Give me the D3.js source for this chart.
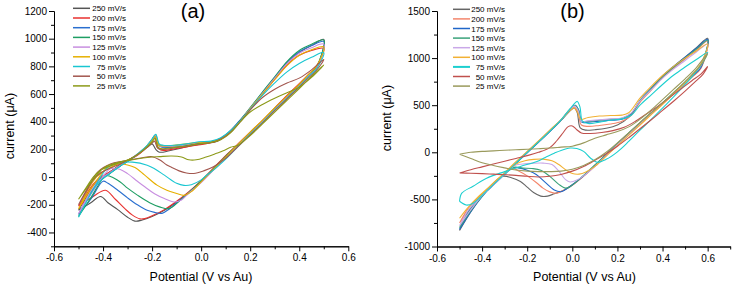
<!DOCTYPE html>
<html>
<head>
<meta charset="utf-8">
<script src="https://cdn.jsdelivr.net/npm/d3@7"></script>
<style>
  body { margin: 0; background: #fff; }
  svg { display: block; font-family: Arial, "Liberation Sans", sans-serif; }
  .tick text { font-size: 10px; fill: #000; }
  .cv { fill: none; stroke-width: 1.1; stroke-linejoin: round; }
</style>
</head>
<body>
<svg id="chart" width="734" height="286"></svg>
<script>
/* scan rates and colours */
var rates = ["250 mV/s", "200 mV/s", "175 mV/s", "150 mV/s", "125 mV/s", "100 mV/s", "75 mV/s", "50 mV/s", "25 mV/s"];
var colorsA = ["#555555", "#e8312f", "#2a6fcf", "#1e9e63", "#c88ee0", "#e6b000", "#19c6d1", "#a2564e", "#8c9a18"];
var colorsB = ["#666666", "#f4866c", "#1f66c8", "#3aa27a", "#c9a8e8", "#f2b134", "#1ccfcf", "#c0504d", "#9a9a5c"];
var widthsB = [1.1, 1.1, 1.1, 1.1, 1.1, 1.1, 1.6, 1.1, 1.1];

/* tick values */
var xTicksA = [-0.6, -0.4, -0.2, 0.0, 0.2, 0.4, 0.6];
var xMinorA = [-0.5, -0.3, -0.1, 0.1, 0.3, 0.5];
var yTicksA = [-400, -200, 0, 200, 400, 600, 800, 1000, 1200];
var yMinorA = [-500, -300, -100, 100, 300, 500, 700, 900, 1100];
var xTicksB = [-0.6, -0.4, -0.2, 0.0, 0.2, 0.4, 0.6];
var xMinorB = [-0.5, -0.3, -0.1, 0.1, 0.3, 0.5, 0.7];
var yTicksB = [-1000, -500, 0, 500, 1000, 1500];
var yMinorB = [-750, -250, 250, 750, 1250];

/* panel (a): [potential V, current uA], forward then reverse scan */
var a250 = [[-0.5,-240],[-0.47,-150],[-0.44,-60],[-0.41,-10],[-0.37,40],[-0.33,90],[-0.29,130],[-0.25,175],[-0.22,215],[-0.2,240],[-0.185,200],[-0.17,180],[-0.13,190],[-0.08,210],[-0.03,230],[0.02,245],[0.06,255],[0.1,300],[0.15,390],[0.2,490],[0.25,600],[0.3,715],[0.35,825],[0.4,900],[0.45,950],[0.5,995],
  [0.47,790],[0.44,740],[0.4,670],[0.35,585],[0.3,495],[0.25,405],[0.2,320],[0.15,235],[0.1,150],[0.05,60],[0,-30],[-0.05,-110],[-0.1,-180],[-0.15,-240],[-0.2,-285],[-0.24,-310],[-0.27,-318],[-0.3,-290],[-0.34,-235],[-0.38,-185],[-0.41,-140],[-0.45,-185],[-0.5,-240]];
var a200 = [[-0.5,-210],[-0.47,-130],[-0.44,-50],[-0.41,0],[-0.37,40],[-0.33,85],[-0.29,125],[-0.25,170],[-0.22,220],[-0.2,265],[-0.19,290],[-0.178,220],[-0.165,195],[-0.12,200],[-0.07,215],[-0.02,230],[0.03,245],[0.07,265],[0.11,310],[0.15,385],[0.2,490],[0.25,600],[0.3,705],[0.35,810],[0.4,880],[0.45,915],[0.5,930],
  [0.47,800],[0.44,745],[0.4,675],[0.35,590],[0.3,500],[0.25,410],[0.2,325],[0.15,240],[0.1,155],[0.05,65],[0,-25],[-0.05,-105],[-0.1,-175],[-0.15,-235],[-0.2,-280],[-0.23,-300],[-0.25,-302],[-0.28,-275],[-0.31,-230],[-0.35,-160],[-0.39,-95],[-0.44,-140],[-0.5,-210]];
var a175 = [[-0.5,-270],[-0.47,-170],[-0.44,-80],[-0.41,-20],[-0.37,30],[-0.33,80],[-0.29,125],[-0.25,175],[-0.22,225],[-0.2,270],[-0.188,300],[-0.175,230],[-0.16,215],[-0.12,215],[-0.07,225],[-0.02,240],[0.03,250],[0.07,270],[0.11,320],[0.15,395],[0.2,500],[0.25,610],[0.3,720],[0.35,830],[0.4,905],[0.45,950],[0.5,980],
  [0.47,785],[0.44,735],[0.4,660],[0.35,575],[0.3,490],[0.25,400],[0.2,315],[0.15,230],[0.1,145],[0.05,55],[0,-35],[-0.05,-115],[-0.1,-185],[-0.13,-230],[-0.16,-262],[-0.19,-255],[-0.22,-240],[-0.26,-200],[-0.3,-150],[-0.34,-95],[-0.38,-45],[-0.4,-30],[-0.45,-160],[-0.5,-270]];
var a150 = [[-0.5,-285],[-0.47,-180],[-0.44,-85],[-0.41,-25],[-0.37,30],[-0.33,80],[-0.29,125],[-0.25,180],[-0.22,230],[-0.2,275],[-0.186,305],[-0.172,235],[-0.155,225],[-0.11,225],[-0.06,235],[-0.01,250],[0.04,255],[0.08,280],[0.12,335],[0.16,410],[0.2,500],[0.25,615],[0.3,725],[0.35,835],[0.4,915],[0.45,960],[0.5,990],
  [0.47,795],[0.44,740],[0.4,665],[0.35,580],[0.3,495],[0.25,405],[0.2,320],[0.15,235],[0.1,150],[0.05,60],[0,-30],[-0.05,-110],[-0.09,-175],[-0.13,-228],[-0.17,-215],[-0.21,-185],[-0.26,-130],[-0.3,-80],[-0.33,-35],[-0.37,5],[-0.39,10],[-0.45,-150],[-0.5,-285]];
var a125 = [[-0.5,-265],[-0.47,-165],[-0.44,-75],[-0.41,-15],[-0.37,35],[-0.33,85],[-0.29,130],[-0.25,180],[-0.22,230],[-0.2,270],[-0.187,300],[-0.173,230],[-0.155,220],[-0.11,225],[-0.06,235],[-0.01,250],[0.04,255],[0.08,275],[0.12,330],[0.16,405],[0.2,495],[0.25,605],[0.3,715],[0.35,820],[0.4,895],[0.45,935],[0.5,960],
  [0.47,785],[0.44,735],[0.4,660],[0.35,575],[0.3,490],[0.25,400],[0.2,315],[0.15,230],[0.1,140],[0.05,50],[0,-40],[-0.05,-115],[-0.08,-165],[-0.11,-180],[-0.15,-155],[-0.19,-120],[-0.23,-70],[-0.26,-30],[-0.3,25],[-0.33,55],[-0.37,60],[-0.44,-100],[-0.5,-265]];
var a100 = [[-0.5,-230],[-0.47,-120],[-0.44,-30],[-0.41,30],[-0.37,70],[-0.33,100],[-0.29,130],[-0.25,175],[-0.22,225],[-0.2,265],[-0.187,295],[-0.173,230],[-0.155,225],[-0.11,230],[-0.06,240],[-0.01,250],[0.04,255],[0.08,275],[0.12,330],[0.16,405],[0.2,495],[0.25,600],[0.3,705],[0.35,805],[0.4,880],[0.45,920],[0.5,940],
  [0.47,800],[0.44,745],[0.4,670],[0.35,585],[0.3,500],[0.25,410],[0.2,325],[0.15,235],[0.1,145],[0.05,55],[0,-35],[-0.04,-105],[-0.07,-132],[-0.1,-118],[-0.14,-95],[-0.18,-58],[-0.23,14],[-0.27,70],[-0.3,88],[-0.34,96],[-0.38,75],[-0.44,-60],[-0.5,-230]];
var a75 = [[-0.5,-290],[-0.47,-185],[-0.44,-90],[-0.41,-25],[-0.37,30],[-0.33,80],[-0.29,125],[-0.25,180],[-0.22,230],[-0.2,275],[-0.185,310],[-0.171,240],[-0.155,230],[-0.11,230],[-0.06,240],[-0.01,255],[0.04,260],[0.08,285],[0.12,335],[0.16,405],[0.2,490],[0.25,590],[0.3,680],[0.35,760],[0.4,820],[0.45,865],[0.5,900],
  [0.47,780],[0.44,730],[0.4,655],[0.35,570],[0.3,485],[0.25,395],[0.2,310],[0.15,220],[0.1,130],[0.05,50],[0.02,10],[0,-20],[-0.04,-55],[-0.07,-60],[-0.1,-45],[-0.15,14],[-0.19,60],[-0.22,86],[-0.28,108],[-0.33,105],[-0.38,70],[-0.44,-90],[-0.5,-290]];
var a50 = [[-0.5,-200],[-0.47,-110],[-0.44,-20],[-0.41,30],[-0.37,65],[-0.33,95],[-0.29,130],[-0.25,175],[-0.22,215],[-0.2,245],[-0.19,260],[-0.178,210],[-0.16,200],[-0.11,210],[-0.06,225],[-0.01,240],[0.04,250],[0.08,275],[0.12,325],[0.16,400],[0.2,485],[0.25,575],[0.3,635],[0.35,680],[0.4,715],[0.45,775],[0.5,850],
  [0.47,770],[0.44,720],[0.4,650],[0.35,565],[0.3,480],[0.25,390],[0.2,305],[0.15,220],[0.1,135],[0.05,75],[0.01,45],[-0.03,26],[-0.06,30],[-0.09,45],[-0.12,70],[-0.14,88],[-0.17,125],[-0.2,147],[-0.24,140],[-0.28,128],[-0.32,115],[-0.37,95],[-0.42,40],[-0.46,-70],[-0.5,-200]];
var a25 = [[-0.5,-160],[-0.47,-80],[-0.44,0],[-0.41,50],[-0.37,80],[-0.33,105],[-0.29,130],[-0.25,175],[-0.22,220],[-0.2,255],[-0.188,280],[-0.175,215],[-0.16,205],[-0.11,215],[-0.06,225],[-0.01,240],[0.04,250],[0.08,270],[0.12,320],[0.16,400],[0.2,470],[0.25,525],[0.3,570],[0.35,610],[0.4,650],[0.45,720],[0.5,810],
  [0.47,760],[0.44,710],[0.4,640],[0.35,555],[0.3,470],[0.25,385],[0.2,300],[0.15,230],[0.12,215],[0.09,190],[0.06,170],[0.02,145],[-0.02,125],[-0.05,125],[-0.08,145],[-0.12,152],[-0.17,148],[-0.22,142],[-0.28,125],[-0.33,110],[-0.37,90],[-0.4,62],[-0.45,-40],[-0.5,-160]];

/* panel (b) */
var b250 = [[-0.5,-830],[-0.46,-620],[-0.42,-500],[-0.38,-410],[-0.34,-320],[-0.3,-230],[-0.25,-115],[-0.2,0],[-0.15,110],[-0.1,225],[-0.05,340],[-0.01,440],[0.008,470],[0.022,420],[0.035,260],[0.06,235],[0.1,240],[0.15,255],[0.2,290],[0.25,370],[0.3,540],[0.35,670],[0.4,800],[0.45,910],[0.5,1010],[0.55,1110],[0.6,1210],
  [0.57,900],[0.53,800],[0.5,735],[0.45,625],[0.4,515],[0.35,410],[0.3,305],[0.25,195],[0.2,85],[0.15,-30],[0.1,-145],[0.05,-250],[0,-345],[-0.04,-405],[-0.08,-440],[-0.11,-465],[-0.14,-465],[-0.17,-430],[-0.2,-370],[-0.23,-310],[-0.27,-270],[-0.31,-255],[-0.35,-330],[-0.4,-460],[-0.45,-630],[-0.5,-830]];
var b200 = [[-0.5,-750],[-0.46,-590],[-0.42,-490],[-0.38,-400],[-0.34,-310],[-0.3,-225],[-0.25,-110],[-0.2,5],[-0.15,115],[-0.1,230],[-0.05,345],[-0.01,450],[0.01,480],[0.025,430],[0.04,290],[0.07,275],[0.12,285],[0.17,300],[0.22,330],[0.26,390],[0.3,530],[0.35,660],[0.4,790],[0.45,895],[0.5,990],[0.55,1085],[0.6,1180],
  [0.57,890],[0.53,795],[0.5,730],[0.45,620],[0.4,510],[0.35,405],[0.3,300],[0.25,190],[0.2,80],[0.15,-35],[0.1,-150],[0.05,-255],[0,-350],[-0.04,-405],[-0.07,-435],[-0.1,-420],[-0.13,-380],[-0.16,-320],[-0.2,-250],[-0.24,-195],[-0.27,-165],[-0.3,-230],[-0.35,-330],[-0.4,-455],[-0.45,-590],[-0.5,-750]];
var b175 = [[-0.5,-820],[-0.46,-630],[-0.42,-510],[-0.38,-415],[-0.34,-325],[-0.3,-235],[-0.25,-120],[-0.2,-5],[-0.15,105],[-0.1,220],[-0.05,340],[-0.01,455],[0.012,500],[0.028,450],[0.042,320],[0.07,320],[0.12,330],[0.17,340],[0.22,350],[0.26,400],[0.3,550],[0.35,680],[0.4,810],[0.45,915],[0.5,1010],[0.55,1105],[0.6,1200],
  [0.57,900],[0.53,805],[0.5,740],[0.45,630],[0.4,520],[0.35,415],[0.3,310],[0.25,200],[0.2,90],[0.15,-25],[0.1,-140],[0.05,-250],[0,-345],[-0.03,-395],[-0.05,-418],[-0.08,-400],[-0.12,-320],[-0.16,-235],[-0.2,-190],[-0.24,-165],[-0.27,-165],[-0.3,-235],[-0.35,-340],[-0.4,-470],[-0.45,-630],[-0.5,-820]];
var b150 = [[-0.5,-800],[-0.46,-620],[-0.42,-505],[-0.38,-410],[-0.34,-320],[-0.3,-230],[-0.25,-115],[-0.2,0],[-0.15,110],[-0.1,225],[-0.05,345],[-0.01,460],[0.012,500],[0.027,455],[0.04,330],[0.07,330],[0.12,340],[0.17,350],[0.22,360],[0.26,410],[0.3,550],[0.35,675],[0.4,800],[0.45,905],[0.5,1000],[0.55,1095],[0.6,1190],
  [0.57,930],[0.53,820],[0.5,745],[0.45,635],[0.4,525],[0.35,420],[0.3,315],[0.25,205],[0.2,95],[0.15,-20],[0.1,-135],[0.05,-245],[0.01,-330],[-0.01,-365],[-0.03,-380],[-0.06,-340],[-0.1,-255],[-0.14,-190],[-0.18,-172],[-0.22,-168],[-0.26,-160],[-0.3,-230],[-0.35,-335],[-0.4,-465],[-0.45,-620],[-0.5,-800]];
var b125 = [[-0.5,-780],[-0.46,-610],[-0.42,-500],[-0.38,-405],[-0.34,-315],[-0.3,-225],[-0.25,-110],[-0.2,5],[-0.15,115],[-0.1,230],[-0.05,345],[-0.01,455],[0.01,490],[0.025,445],[0.04,330],[0.07,335],[0.12,345],[0.17,355],[0.22,365],[0.26,415],[0.3,545],[0.35,665],[0.4,785],[0.45,885],[0.5,975],[0.55,1065],[0.6,1150],
  [0.57,920],[0.53,810],[0.5,735],[0.45,625],[0.4,515],[0.35,410],[0.3,300],[0.25,190],[0.2,80],[0.15,-35],[0.1,-150],[0.05,-250],[0.02,-295],[-0.01,-315],[-0.03,-290],[-0.06,-200],[-0.09,-130],[-0.13,-115],[-0.18,-118],[-0.22,-125],[-0.25,-135],[-0.28,-185],[-0.32,-280],[-0.36,-370],[-0.4,-460],[-0.45,-610],[-0.5,-780]];
var b100 = [[-0.5,-700],[-0.46,-580],[-0.42,-485],[-0.38,-395],[-0.34,-305],[-0.3,-215],[-0.25,-100],[-0.2,10],[-0.15,120],[-0.1,235],[-0.05,345],[-0.01,445],[0.008,470],[0.022,430],[0.037,350],[0.07,370],[0.12,385],[0.17,390],[0.22,395],[0.25,420],[0.3,575],[0.35,700],[0.4,815],[0.45,915],[0.5,1000],[0.55,1075],[0.6,1150],
  [0.57,940],[0.53,820],[0.5,740],[0.45,625],[0.4,510],[0.35,400],[0.3,290],[0.25,180],[0.2,70],[0.15,-40],[0.1,-150],[0.06,-210],[0.03,-232],[0,-225],[-0.03,-185],[-0.06,-130],[-0.09,-90],[-0.13,-72],[-0.17,-75],[-0.21,-90],[-0.25,-125],[-0.29,-200],[-0.33,-280],[-0.37,-370],[-0.42,-480],[-0.46,-580],[-0.5,-700]];
var b75 = [[-0.5,-520],[-0.47,-560],[-0.44,-540],[-0.41,-480],[-0.38,-410],[-0.34,-320],[-0.3,-230],[-0.25,-115],[-0.2,0],[-0.15,110],[-0.1,225],[-0.05,345],[-0.01,460],[0.01,520],[0.022,540],[0.034,480],[0.045,330],[0.07,305],[0.12,320],[0.17,340],[0.22,355],[0.26,390],[0.3,500],[0.35,610],[0.4,720],[0.45,820],[0.5,905],[0.55,985],[0.6,1060],
  [0.58,960],[0.55,860],[0.5,720],[0.45,590],[0.4,470],[0.35,350],[0.3,235],[0.25,115],[0.2,5],[0.15,-75],[0.11,-105],[0.08,-60],[0.05,10],[0.02,40],[-0.01,45],[-0.05,20],[-0.08,-10],[-0.12,-55],[-0.16,-100],[-0.23,-150],[-0.3,-205],[-0.38,-275],[-0.44,-360],[-0.49,-434],[-0.5,-520]];
var b50 = [[-0.5,-220],[-0.45,-185],[-0.4,-155],[-0.35,-125],[-0.3,-95],[-0.25,-65],[-0.2,-35],[-0.15,0],[-0.1,50],[-0.07,120],[-0.04,210],[-0.02,270],[0,280],[0.02,240],[0.04,205],[0.08,200],[0.13,210],[0.18,230],[0.23,265],[0.28,330],[0.33,410],[0.38,490],[0.43,580],[0.48,670],[0.53,760],[0.57,830],[0.6,910],
  [0.58,830],[0.55,760],[0.5,650],[0.45,545],[0.4,445],[0.35,345],[0.3,250],[0.25,155],[0.2,65],[0.15,-15],[0.1,-85],[0.05,-150],[0,-200],[-0.05,-235],[-0.1,-255],[-0.15,-262],[-0.2,-255],[-0.25,-245],[-0.3,-238],[-0.35,-232],[-0.4,-226],[-0.45,-222],[-0.5,-220]];
var b25 = [[-0.5,-20],[-0.45,0],[-0.4,10],[-0.35,15],[-0.3,22],[-0.25,27],[-0.2,32],[-0.15,38],[-0.1,45],[-0.05,55],[0,65],[0.05,100],[0.1,150],[0.15,185],[0.2,220],[0.25,270],[0.3,350],[0.35,450],[0.4,560],[0.45,670],[0.5,780],[0.55,900],[0.6,1050],
  [0.58,960],[0.55,870],[0.5,750],[0.45,635],[0.4,525],[0.35,420],[0.3,315],[0.25,205],[0.2,100],[0.15,0],[0.1,-80],[0.05,-140],[0,-180],[-0.05,-200],[-0.1,-205],[-0.15,-205],[-0.2,-200],[-0.25,-188],[-0.3,-165],[-0.35,-140],[-0.4,-110],[-0.45,-65],[-0.5,-20]];

var curvesA = [a250, a200, a175, a150, a125, a100, a75, a50, a25];
var curvesB = [b250, b200, b175, b150, b125, b100, b75, b50, b25];

var svg = d3.select("#chart");

function drawPanel(cfg) {
  var x = d3.scaleLinear().domain(cfg.xDomain).range([cfg.left, cfg.right]);
  var y = d3.scaleLinear().domain(cfg.yDomain).range([cfg.bottom, cfg.top]);
  var g = svg.append("g");

  /* minor ticks first, then major axes with labels */
  g.append("g").attr("transform", "translate(0," + cfg.bottom + ")")
    .call(d3.axisBottom(x).tickValues(cfg.xMinor).tickSize(3).tickSizeOuter(0).tickFormat(""));
  g.append("g").attr("transform", "translate(" + cfg.left + ",0)")
    .call(d3.axisLeft(y).tickValues(cfg.yMinor).tickSize(3).tickSizeOuter(0).tickFormat(""));

  g.append("g").attr("transform", "translate(0," + cfg.bottom + ")")
    .call(d3.axisBottom(x).tickValues(cfg.xTicks).tickSize(5).tickSizeOuter(0).tickPadding(3)
      .tickFormat(function(d) { return d.toFixed(1); }));
  g.append("g").attr("transform", "translate(" + cfg.left + ",0)")
    .call(d3.axisLeft(y).tickValues(cfg.yTicks).tickSize(5).tickSizeOuter(0).tickPadding(2)
      .tickFormat(function(d) { return String(d); }));

  /* curves */
  var line = d3.line()
    .x(function(d) { return x(d[0]); })
    .y(function(d) { return y(d[1]); })
    .curve(d3.curveCatmullRom.alpha(0.5));

  g.selectAll("path.cv").data(cfg.curves).enter()
    .append("path")
    .attr("class", "cv")
    .attr("stroke", function(d, i) { return cfg.colors[i]; })
    .attr("stroke-width", function(d, i) { return cfg.widths ? cfg.widths[i] : 1.1; })
    .attr("d", line);

  /* legend */
  var leg = g.selectAll("g.leg").data(rates).enter()
    .append("g").attr("class", "leg")
    .attr("transform", function(d, i) { return "translate(0," + (cfg.legendY + i * cfg.legendStep) + ")"; });
  leg.append("line")
    .attr("x1", cfg.legendX).attr("x2", cfg.legendX + 17)
    .attr("stroke", function(d, i) { return cfg.colors[i]; })
    .attr("stroke-width", function(d, i) { return cfg.widths ? cfg.widths[i] + 0.4 : 1.5; });
  leg.append("text")
    .attr("x", cfg.legendTextX).attr("y", 3)
    .style("text-anchor", "end").style("font-size", "8px")
    .text(function(d) { return d; });

  /* titles and axis labels */
  g.append("text").attr("x", cfg.titleX).attr("y", 18)
    .style("text-anchor", "middle").style("font-size", "20px").text(cfg.title);
  g.append("text").attr("x", cfg.xLabelX).attr("y", 281)
    .style("text-anchor", "middle").style("font-size", "12.5px").text("Potential (V vs Au)");
  g.append("text").attr("transform", "translate(" + cfg.yLabelX + "," + cfg.yLabelY + ") rotate(-90)")
    .style("text-anchor", "middle").style("font-size", "12.5px").text("current (\u03bcA)");
}

drawPanel({
  left: 54, right: 348.3, top: 11, bottom: 246.3,
  xDomain: [-0.6, 0.6], yDomain: [-500, 1200],
  xTicks: xTicksA, xMinor: xMinorA, yTicks: yTicksA, yMinor: yMinorA,
  curves: curvesA, colors: colorsA,
  legendX: 73, legendTextX: 126, legendY: 8.3, legendStep: 9.7,
  title: "(a)", titleX: 193, xLabelX: 201, yLabelX: 14, yLabelY: 126
});

drawPanel({
  left: 437, right: 730.2, top: 11, bottom: 246.5,
  xDomain: [-0.6, 0.7], yDomain: [-1000, 1500],
  xTicks: xTicksB, xMinor: xMinorB, yTicks: yTicksB, yMinor: yMinorB,
  curves: curvesB, colors: colorsB, widths: widthsB,
  legendX: 453, legendTextX: 505, legendY: 9.3, legendStep: 9.6,
  title: "(b)", titleX: 572.5, xLabelX: 584.5, yLabelX: 391, yLabelY: 118
});
</script>
</body>
</html>
